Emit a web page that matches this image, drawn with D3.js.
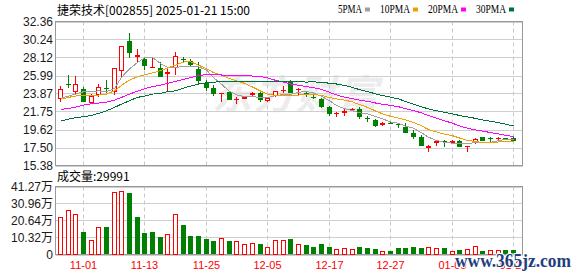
<!DOCTYPE html>
<html>
<head>
<meta charset="utf-8">
<script src="https://cdn.jsdelivr.net/npm/d3@7"></script>
<style>
  body { margin: 0; background: #fff; }
</style>
</head>
<body>
<script>
// daily K-line, 2024-10-29 .. 2025-01-21
const dates = ["10-29","10-30","10-31","11-01","11-04","11-05","11-06","11-07","11-08","11-11",
  "11-12","11-13","11-14","11-15","11-18","11-19","11-20","11-21","11-22","11-25",
  "11-26","11-27","11-28","11-29","12-02","12-03","12-04","12-05","12-06","12-09",
  "12-10","12-11","12-12","12-13","12-16","12-17","12-18","12-19","12-20","12-23",
  "12-24","12-25","12-26","12-27","12-30","12-31","01-02","01-03","01-06","01-07",
  "01-08","01-09","01-10","01-13","01-14","01-15","01-16","01-17","01-20","01-21"];
const opens = [23.17,25.02,24.08,24.39,22.70,23.68,24.51,24.00,26.55,30.04,
  28.12,27.88,26.94,26.82,26.12,26.82,27.96,27.69,26.75,25.14,
  24.47,23.88,24.08,23.09,23.25,23.68,23.96,23.02,23.57,24.19,
  25.33,24.27,23.96,23.49,23.21,22.31,21.41,21.60,21.88,21.99,
  20.94,20.74,20.15,20.39,20.31,19.95,19.25,18.78,17.44,17.99,
  18.23,18.07,18.23,17.60,18.15,18.70,18.58,18.50,18.58,18.66];
const highs = [24.74,26.04,25.92,24.67,23.80,24.94,25.45,26.90,29.49,31.03,
  29.10,28.08,28.12,27.53,27.02,28.71,28.20,27.88,27.61,25.45,
  24.86,23.96,24.15,23.49,23.61,24.08,24.08,23.49,24.15,24.74,
  25.45,24.55,24.04,23.64,23.29,22.39,21.72,21.99,22.15,22.23,
  21.21,20.86,20.46,20.54,20.43,20.35,19.56,18.97,17.76,18.31,
  18.38,18.38,18.38,17.68,18.62,18.78,18.78,18.78,18.66,18.70];
const lows = [22.82,24.47,23.76,22.86,22.66,23.49,23.96,23.68,25.65,28.00,
  27.61,26.63,26.90,25.84,24.15,26.04,27.41,27.10,24.94,24.15,
  23.61,22.90,23.09,22.58,23.17,23.57,22.90,22.82,23.41,23.88,
  23.96,23.68,23.49,23.21,22.19,21.25,21.05,21.25,21.84,20.86,
  20.46,19.95,20.07,20.23,19.76,19.25,18.54,17.68,17.01,17.72,
  17.60,17.99,17.60,16.93,17.91,18.27,18.19,18.27,18.38,18.19];
const closes = [24.35,24.82,24.94,22.90,23.57,24.67,24.35,26.82,29.45,28.59,
  28.39,27.14,27.02,25.84,26.35,28.28,27.88,27.22,25.37,24.47,
  23.80,23.96,23.09,23.17,23.49,23.96,23.09,23.29,24.15,24.31,
  23.96,24.39,23.68,23.29,22.31,21.41,21.56,21.84,22.07,21.05,
  20.82,20.07,20.39,20.31,20.15,19.25,18.78,17.68,17.72,18.23,
  18.15,18.31,17.60,17.68,18.54,18.31,18.46,18.58,18.46,18.23];
// volume, in 万
const volumes = [22.6,26.8,24.4,13.6,8.5,16.7,16.7,37.8,38.6,37.4,
  22.8,13.0,13.6,10.8,12.2,24.4,17.9,11.2,11.2,9.4,
  8.1,9.8,8.1,7.9,6.1,6.7,6.1,4.5,9.1,8.5,
  9.4,6.1,5.7,4.7,6.3,4.5,3.3,3.7,3.3,4.5,
  3.9,3.3,2.4,2.4,3.7,3.7,4.5,3.7,4.5,4.1,
  3.7,2.4,2.6,3.3,5.1,2.4,3.0,3.0,2.6,3.0];
const ma5 = [23.29,23.57,23.80,24.08,24.12,24.18,24.09,24.46,25.77,26.78,
  27.52,28.08,28.12,27.40,26.95,26.93,27.07,27.11,27.02,26.64,
  25.75,24.96,24.14,23.70,23.50,23.53,23.36,23.40,23.60,23.76,
  23.76,24.02,24.10,23.93,23.53,23.02,22.45,22.08,21.84,21.59,
  21.47,21.17,20.88,20.53,20.35,20.03,19.78,19.23,18.72,18.33,
  18.11,18.02,18.00,17.99,18.06,18.09,18.12,18.31,18.47,18.41];
const ma10 = [23.21,23.41,23.57,23.64,23.64,23.68,23.80,24.19,24.82,25.45,
  25.85,26.08,26.29,26.58,26.86,27.22,27.58,27.62,27.21,26.80,
  26.34,26.02,25.63,25.36,25.07,24.64,24.16,23.77,23.65,23.63,
  23.65,23.69,23.75,23.76,23.64,23.39,23.23,23.09,22.88,22.56,
  22.24,21.81,21.48,21.18,20.97,20.75,20.47,20.06,19.62,19.34,
  19.07,18.90,18.62,18.35,18.19,18.10,18.07,18.16,18.23,18.23];
const ma20 = [21.99,22.11,22.27,22.51,22.66,22.74,22.86,23.09,23.41,23.80,
  24.15,24.43,24.67,24.86,25.06,25.29,25.53,25.76,25.96,26.12,
  26.09,26.05,25.96,25.97,25.97,25.93,25.87,25.70,25.43,25.21,
  24.99,24.85,24.69,24.56,24.36,24.01,23.70,23.43,23.26,23.09,
  22.94,22.75,22.61,22.47,22.31,22.07,21.86,21.58,21.26,20.95,
  20.66,20.36,20.05,19.77,19.58,19.43,19.27,19.11,18.93,18.79];
const ma30 = [20.62,20.86,21.01,21.13,21.29,21.52,21.84,22.23,22.62,23.02,
  23.41,23.57,23.80,23.88,24.08,24.19,24.51,24.74,24.98,25.14,
  25.22,25.24,25.25,25.26,25.26,25.27,25.27,25.28,25.28,25.29,
  25.28,25.26,25.22,25.24,25.19,25.08,24.99,24.83,24.58,24.33,
  24.08,23.84,23.62,23.44,23.23,22.93,22.62,22.31,22.05,21.84,
  21.66,21.47,21.28,21.10,20.94,20.75,20.59,20.44,20.25,20.04];

const priceTicks = [15.38, 17.50, 19.62, 21.75, 23.87, 25.99, 28.12, 30.24, 32.36];
const volTicks = [0, 10.32, 20.64, 30.96, 41.27];
const dateTicks = ["11-01","11-13","11-25","12-05","12-17","12-27","01-09","01-21"];
const maNames = ["5PMA", "10PMA", "20PMA", "30PMA"];
const lastVolume = 29991;

const width = 578, height = 276;
const left = 55.5, right = 522.5;
const mainTop = 21.5, mainBottom = 165.5;
const volTop = 186.5, volBottom = 254.5;
const upColor = "#ff0000", downColor = "#008000";
const maColors = ["#a0a0a0", "#f0a000", "#ff00ff", "#00703c"];
const cjk = "'Noto Sans CJK SC', sans-serif";

var svg = d3.select("body")
  .append("svg")
  .attr("width", width)
  .attr("height", height)
  .style("font-family", "'Liberation Sans', Arial, sans-serif");

var x = d3.scaleBand()
  .domain(d3.range(dates.length))
  .range([56.5, 517.3]);
function cx(i) { return Math.floor(x(i) + x.bandwidth() / 2) + 0.5; }

var y = d3.scaleLinear().domain([15.38, 32.36]).range([mainBottom, mainTop]);
var yv = d3.scaleLinear().domain([0, 41.27]).range([volBottom, volTop]);

// title + legend
svg.append("text")
  .attr("x", 57).attr("y", 15)
  .style("font-family", cjk)
  .style("font-size", "12px")
  .attr("fill", "#000")
  .text("捷荣技术[002855] 2025-01-21 15:00");

var lx = 338;
maNames.forEach(function(name, k) {
  var w = name.length * 6;
  svg.append("text")
    .attr("x", lx).attr("y", 13)
    .attr("textLength", w)
    .attr("lengthAdjust", "spacingAndGlyphs")
    .style("font-family", "'Liberation Serif', serif")
    .style("font-size", "12px")
    .attr("fill", "#000")
    .text(name);
  svg.append("rect")
    .attr("x", lx + w + 3).attr("y", 7.5)
    .attr("width", 5).attr("height", 4)
    .attr("fill", maColors[k]);
  lx += w + 18;
});

// watermark behind the candles
svg.append("text")
  .attr("x", 212).attr("y", 109)
  .style("font-family", cjk)
  .style("font-size", "40px")
  .style("font-weight", "bold")
  .style("font-style", "italic")
  .attr("fill", "#ececec")
  .attr("textLength", 166)
  .text("东方财富");

function drawGrid(top, bottom, ticks, scale) {
  svg.append("g").selectAll("line")
    .data(ticks).enter().append("line")
    .attr("x1", left).attr("x2", right)
    .attr("y1", d => Math.round(scale(d)) + 0.5)
    .attr("y2", d => Math.round(scale(d)) + 0.5)
    .attr("stroke", "#cfcfcf");
  svg.append("g").selectAll("line")
    .data(dateTicks).enter().append("line")
    .attr("x1", d => cx(dates.indexOf(d)))
    .attr("x2", d => cx(dates.indexOf(d)))
    .attr("y1", top).attr("y2", bottom)
    .attr("stroke", "#c8c8c8")
    .attr("stroke-dasharray", "4,3");
  svg.append("rect")
    .attr("x", left).attr("y", top)
    .attr("width", right - left).attr("height", bottom - top)
    .attr("fill", "none")
    .attr("stroke", "#999");
}
drawGrid(mainTop, mainBottom, priceTicks, y);
drawGrid(volTop, volBottom, volTicks, yv);

// y labels
svg.append("g").selectAll("text")
  .data(priceTicks).enter().append("text")
  .attr("x", 53).attr("y", d => y(d))
  .attr("dy", "0.36em")
  .attr("text-anchor", "end")
  .style("font-size", "12px")
  .attr("fill", "#1a1a1a")
  .text(d => d.toFixed(2));

svg.append("g").selectAll("text")
  .data(volTicks).enter().append("text")
  .attr("x", 53).attr("y", d => yv(d))
  .attr("dy", "0.36em")
  .attr("text-anchor", "end")
  .style("font-size", "12px")
  .attr("fill", "#1a1a1a")
  .text(d => d === 0 ? "0" : d.toFixed(2))
  .append("tspan")
  .style("font-family", cjk)
  .text(d => d === 0 ? "" : "万");

svg.append("text")
  .attr("x", 57).attr("y", 181)
  .style("font-family", cjk)
  .style("font-size", "12px")
  .attr("fill", "#000")
  .text("成交量:" + lastVolume);

// x labels
svg.append("g").selectAll("text")
  .data(dateTicks).enter().append("text")
  .attr("x", d => cx(dates.indexOf(d)))
  .attr("y", 269)
  .attr("text-anchor", "middle")
  .style("font-size", "11px")
  .attr("fill", "#ff0000")
  .text(d => d);

// candles
var candles = svg.append("g").selectAll("g")
  .data(d3.range(dates.length)).enter().append("g")
  .attr("shape-rendering", "crispEdges");

candles.each(function(i) {
  var g = d3.select(this);
  var up = closes[i] > opens[i];
  var col = up ? upColor : downColor;
  var c = cx(i);
  g.append("line")
    .attr("x1", c).attr("x2", c)
    .attr("y1", Math.round(y(highs[i]))).attr("y2", Math.round(y(lows[i])))
    .attr("stroke", col);
  var top = Math.round(y(Math.max(opens[i], closes[i])));
  var bot = Math.round(y(Math.min(opens[i], closes[i])));
  if (bot - top < 2) {
    g.append("rect")
      .attr("x", c - 2.5).attr("y", top)
      .attr("width", 5).attr("height", Math.max(1, bot - top))
      .attr("fill", col);
  } else if (up) {
    g.append("rect")
      .attr("x", c - 2).attr("y", top + 0.5)
      .attr("width", 4).attr("height", bot - top - 1)
      .attr("fill", "#fff").attr("stroke", col);
  } else {
    g.append("rect")
      .attr("x", c - 2.5).attr("y", top)
      .attr("width", 5).attr("height", bot - top)
      .attr("fill", col);
  }
});

// volume bars, coloured by close against previous close
svg.append("g").attr("shape-rendering", "crispEdges")
  .selectAll("rect")
  .data(volumes).enter().append("rect")
  .each(function(v, i) {
    var prev = i > 0 ? closes[i - 1] : opens[i];
    var up = closes[i] >= prev;
    var top = Math.round(yv(v));
    var r = d3.select(this);
    if (up) {
      r.attr("x", cx(i) - 2).attr("y", top + 0.5)
        .attr("width", 4).attr("height", volBottom - 0.5 - top - 0.5)
        .attr("fill", "#fff").attr("stroke", upColor);
    } else {
      r.attr("x", cx(i) - 2.5).attr("y", top)
        .attr("width", 5).attr("height", volBottom - 0.5 - top)
        .attr("fill", downColor);
    }
  });

// moving averages
var line = d3.line()
  .x((d, i) => cx(i))
  .y(d => y(d));
[ma5, ma10, ma20, ma30].forEach(function(series, k) {
  svg.append("path")
    .datum(series)
    .attr("d", line)
    .attr("fill", "none")
    .attr("stroke", maColors[k])
    .attr("stroke-width", 1)
    .attr("shape-rendering", "crispEdges");
});

// site mark
svg.append("text")
  .attr("x", 455).attr("y", 267)
  .attr("textLength", 116)
  .attr("lengthAdjust", "spacingAndGlyphs")
  .style("font-family", "'Liberation Serif', serif")
  .style("font-size", "18px")
  .style("font-weight", "bold")
  .attr("fill", "#1f3f80")
  .attr("stroke", "#fff")
  .attr("stroke-width", 2)
  .attr("paint-order", "stroke")
  .text("www.365jz.com");
</script>
</body>
</html>
